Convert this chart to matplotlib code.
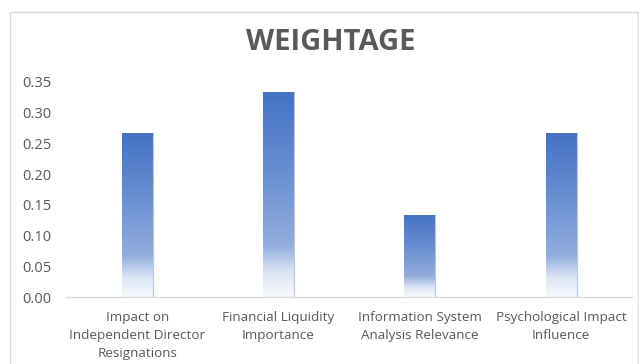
import matplotlib.pyplot as plt
from matplotlib.colors import LinearSegmentedColormap
from matplotlib.patches import Rectangle
import numpy as np

# data
categories = ['Impact on\nIndependent Director\nResignations',
              'Financial Liquidity\nImportance',
              'Information System\nAnalysis Relevance',
              'Psychological Impact\nInfluence']
weightage = [0.2667, 0.3333, 0.1333, 0.2667]
yticks = [0.00, 0.05, 0.10, 0.15, 0.20, 0.25, 0.30, 0.35]

plt.rcParams['font.family'] = ['Open Sans', 'DejaVu Sans']
grey = '#595959'

fig = plt.figure(figsize=[6.39, 3.64], dpi=100)
ax = fig.add_axes([0.104, 0.184, 0.885, 0.591])

# gradient: saturated blue on top, fading to white at the base
cmap = LinearSegmentedColormap.from_list(
    'fade', [(0.0, '#F7F9FD'), (0.12, '#DCE5F5'), (0.25, '#93AEDD'),
             (0.6, '#6A8FD2'), (1.0, '#4472C4')])
grad = np.linspace(0, 1, 256).reshape(-1, 1)

x = np.arange(len(categories))
width = 0.22
for xi, v in zip(x, weightage):
    ax.imshow(grad, cmap=cmap, aspect='auto', origin='lower',
              extent=[xi - width/2, xi + width/2, 0, v], zorder=2)
    ax.plot([xi + width/2, xi + width/2], [0, v], color='#B4C7E7', lw=0.8, zorder=3)

ax.set_xlim(-0.5, len(categories) - 0.5)
ax.set_ylim(0, 0.35)
ax.set_xticks(x)
ax.set_xticklabels(categories, fontsize=9.7, color=grey, linespacing=1.5)
ax.set_yticks(yticks)
ax.set_yticklabels(['%.2f' % t for t in yticks], fontsize=10.5, color=grey)
ax.tick_params(length=0, pad=10)
ax.tick_params(axis='y', pad=11)

for s in ['top', 'right', 'left']:
    ax.spines[s].set_visible(False)
ax.spines['bottom'].set_color('#D9D9D9')
ax.spines['bottom'].set_linewidth(1.0)

fig.text(0.517, 0.882, 'WEIGHTAGE', ha='center', va='center',
         fontsize=21, fontweight='bold', color=grey)

# chart area border
fig.patches.append(Rectangle((10/639, -0.02), 628/639, 1.02 - 12/364,
                             transform=fig.transFigure, fill=False,
                             edgecolor='#D9D9D9', lw=1.0))

fig.savefig('out.png', dpi=100)
